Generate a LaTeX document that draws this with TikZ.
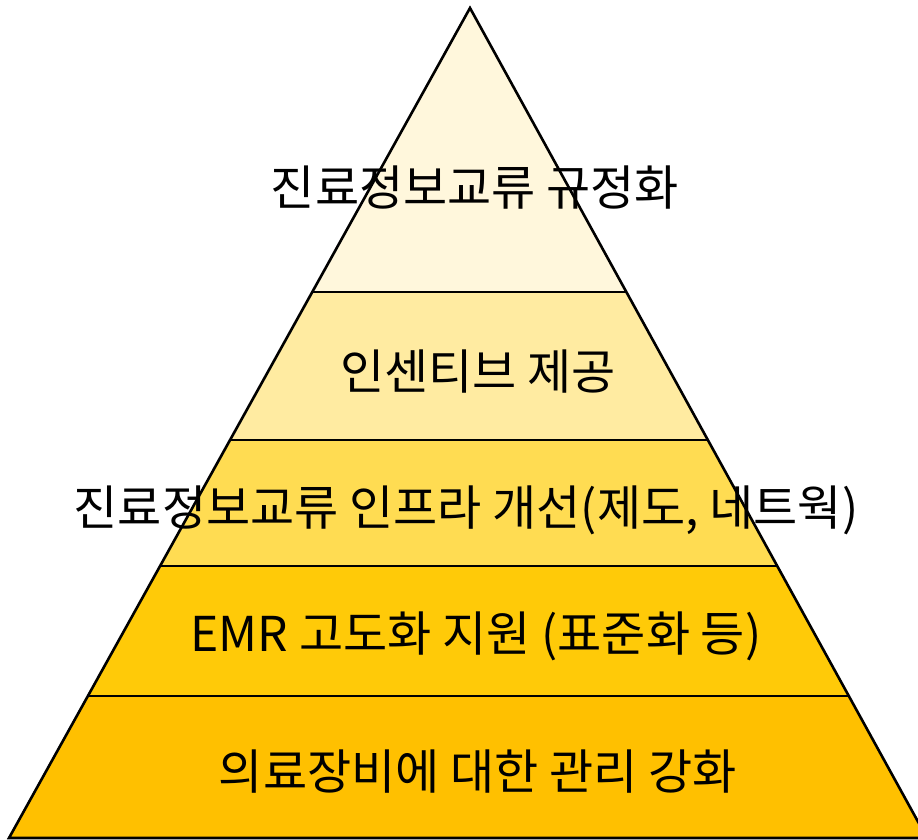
\documentclass[tikz,border=0pt]{standalone}
\usepackage{fontspec}
\newfontfamily\krfont{Noto Sans CJK KR}
\usetikzlibrary{calc}
\definecolor{lv1}{HTML}{FFF7DC}
\definecolor{lv2}{HTML}{FFEBA1}
\definecolor{lv3}{HTML}{FFDC52}
\definecolor{lv4}{HTML}{FFCA08}
\definecolor{lv5}{HTML}{FFC000}
\tikzset{
  edge/.style={line width=2.6pt, black, line join=miter},
  label/.style={font=\krfont\fontsize{48}{56}\selectfont, text=black, inner sep=0pt, anchor=center}
}
\begin{document}
\begin{tikzpicture}[x=1pt,y=-1pt]
\useasboundingbox (0,0) rectangle (918,839);
\clip (0,0) rectangle (918,839);
\coordinate (apex) at (470,8);
\coordinate (bl) at (9,838);
\coordinate (br) at (927,838);
\foreach \n/\yy in {a/292,b/440,c/566,d/696}{
  \coordinate (L\n) at ($(apex)!{(\yy-8)/830}!(bl)$);
  \coordinate (R\n) at ($(apex)!{(\yy-8)/830}!(br)$);
}
\fill[lv1] (apex) -- (La) -- (Ra) -- cycle;
\fill[lv2] (La) -- (Lb) -- (Rb) -- (Ra) -- cycle;
\fill[lv3] (Lb) -- (Lc) -- (Rc) -- (Rb) -- cycle;
\fill[lv4] (Lc) -- (Ld) -- (Rd) -- (Rc) -- cycle;
\fill[lv5] (Ld) -- (bl) -- (br) -- (Rd) -- cycle;
\draw[edge] (apex) -- (bl) -- (br) -- cycle;
\draw[edge] (La) -- (Ra);
\draw[edge] (Lb) -- (Rb);
\draw[edge] (Lc) -- (Rc);
\draw[edge] (Ld) -- (Rd);
\node[label] (t1) at (475,188) {진료정보교류 규정화};
\node[label] (t2) at (478,372) {인센티브 제공};
\node[label] (t3) at (466,510) {진료정보교류 인프라 개선(제도, 네트웍)};
\node[label] (t4) at (476,636) {EMR 고도화 지원 (표준화 등)};
\node[label] (t5) at (478,772) {의료장비에 대한 관리 강화};
\end{tikzpicture}
\end{document}
